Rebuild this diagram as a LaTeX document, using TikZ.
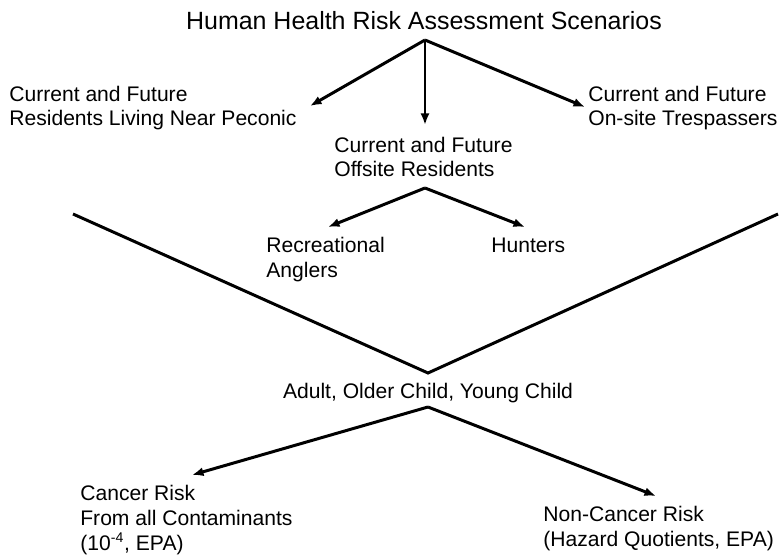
\documentclass[tikz,border=0pt]{standalone}
\usepackage{fontspec}
\setmainfont{Liberation Sans}
\usetikzlibrary{arrows.meta}
\tikzstyle{every node}=[font=\fontsize{12}{14.2}\selectfont, inner sep=0pt]
\tikzset{fleche/.style={-{Latex[length=2.3mm, width=1.8mm]}, line width=1.7pt},
	trait/.style={line width=1.7pt}}

\begin{document}
\begin{tikzpicture}[x=0.2mm, y=-0.2mm]
	\useasboundingbox (0,0) rectangle (780,558);
	
	% textes (ancre sur la derniere ligne)
	\node[anchor=base, font=\fontsize{14.2}{17}\selectfont] (titre) at (424,30) {Human Health Risk Assessment Scenarios};
	\node[anchor=base west, align=left] (peconic) at (9,126) {Current and Future\\Residents Living Near Peconic};
	\node[anchor=base west, align=left] (trespass) at (588,126) {Current and Future\\On-site Trespassers};
	\node[anchor=base west, align=left] (offsite) at (334,177) {Current and Future\\Offsite Residents};
	\node[anchor=base west, align=left] (anglers) at (266,277) {Recreational\\Anglers};
	\node[anchor=base west] (hunters) at (491,252) {Hunters};
	\node[anchor=base] (ages) at (428,398) {Adult, Older Child, Young Child};
	\node[anchor=base west, align=left] (cancer) at (80,550) {Cancer Risk\\From all Contaminants\\(10\textsuperscript{-4}, EPA)};
	\node[anchor=base west, align=left] (noncancer) at (543,546) {Non-Cancer Risk\\(Hazard Quotients, EPA)};
	
	% points
	\coordinate (s1) at (425,40);
	\coordinate (s2) at (425,188);
	\coordinate (s3) at (428,407);
	\coordinate (p1) at (310,106);
	\coordinate (p2) at (425,125);
	\coordinate (p3) at (585,107);
	\coordinate (p4) at (328,227);
	\coordinate (p5) at (525,227);
	\coordinate (p6) at (192,475);
	\coordinate (p7) at (656,496);
	\coordinate (va) at (73,214);
	\coordinate (vb) at (428,373);
	\coordinate (vc) at (778,214);
	
	% fleches
	\draw[fleche] (s1) -- (p1);
	\draw[fleche] (s1) -- (p2);
	\draw[fleche] (s1) -- (p3);
	\draw[fleche] (s2) -- (p4);
	\draw[fleche] (s2) -- (p5);
	\draw[fleche] (s3) -- (p6);
	\draw[fleche] (s3) -- (p7);
	
	% le V
	\draw[trait] (va) -- (vb) -- (vc);
\end{tikzpicture}
\end{document}
